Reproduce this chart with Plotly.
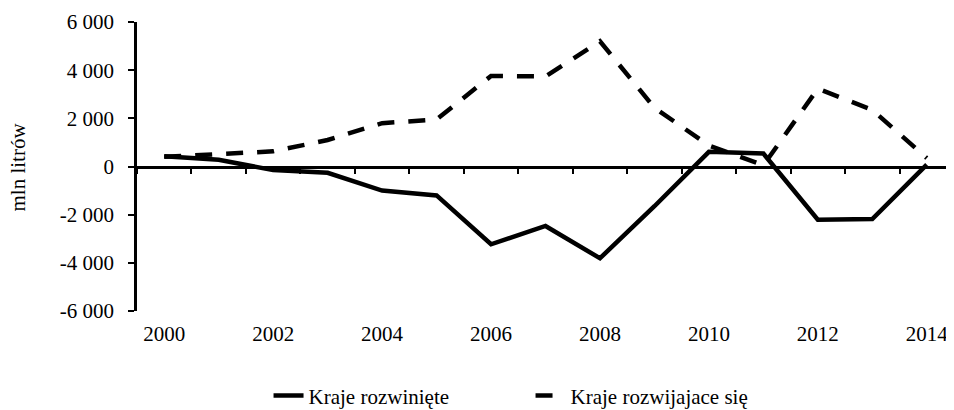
import plotly.graph_objects as go

years = list(range(2000, 2015))
developed = [430, 280, -150, -260, -1000, -1200, -3230, -2470, -3810, -1650, 610, 540, -2210, -2180, 80]
developing = [400, 500, 630, 1100, 1800, 1950, 3760, 3740, 5200, 2440, 870, 50, 3230, 2350, 350]

y_ticks = [-6000, -4000, -2000, 0, 2000, 4000, 6000]
y_ticktext = ["-6 000", "-4 000", "-2 000", "0", "2 000", "4 000", "6 000"]
x_tick_years = years[::2]

name_dev = "Kraje rozwinięte"
name_devg = "Kraje rozwijajace się"
y_title = "mln litrów"

boundaries = [y - 0.5 for y in years] + [years[-1] + 0.5]
x_range = [years[0] - 0.5, years[-1] + 0.5]

font_family = "Times New Roman, Liberation Serif, DejaVu Serif, serif"

fig = go.Figure()
fig.add_trace(go.Scatter(x=years, y=developed, mode="lines", name=name_dev,
                         line=dict(color="black", width=4.5)))
fig.add_trace(go.Scatter(x=years, y=developing, mode="lines", name=name_devg,
                         line=dict(color="black", width=4.5, dash="17px,14px")))
# helper trace for the zero-line axis with boundary ticks
fig.add_trace(go.Scatter(x=[years[0]], y=[None], xaxis="x2", showlegend=False,
                         hoverinfo="skip", mode="lines"))

fig.update_layout(
    width=946, height=402,
    margin=dict(l=129, r=0, t=14, b=99, autoexpand=False),
    paper_bgcolor="white", plot_bgcolor="white",
    font=dict(family=font_family, size=21, color="black"),
    showlegend=True,
    legend=dict(orientation="h", x=0.161, xanchor="left", y=-0.294, yanchor="middle",
                font=dict(family=font_family, size=21, color="black"),
                entrywidth=217, entrywidthmode="pixels", bgcolor="rgba(0,0,0,0)"),
    xaxis=dict(range=x_range, tickmode="array", tickvals=x_tick_years,
               ticktext=[str(y) for y in x_tick_years], showline=False, ticks="",
               showgrid=False, zeroline=False, ticklabelstandoff=8,
               tickfont=dict(family=font_family, size=21, color="black")),
    xaxis2=dict(range=x_range, overlaying="x", anchor="free", position=0.5, side="bottom",
                tickmode="array", tickvals=boundaries, showticklabels=False,
                showline=True, linecolor="black", linewidth=2.5, ticks="outside",
                ticklen=6, tickwidth=1.5, tickcolor="black", showgrid=False, zeroline=False),
    yaxis=dict(range=[-6000, 6000], tickmode="array", tickvals=y_ticks, ticktext=y_ticktext,
               showline=True, linecolor="black", linewidth=2.5, ticks="outside", ticklen=6,
               tickwidth=1.5, tickcolor="black", showgrid=False, zeroline=False,
               ticklabelstandoff=10,
               tickfont=dict(family=font_family, size=21, color="black")),
)

fig.add_annotation(text=y_title, xref="paper", yref="paper", x=-0.1457, y=0.5,
                   xanchor="center", yanchor="middle", textangle=-90, showarrow=False,
                   font=dict(family=font_family, size=21, color="black"))

fig.write_html("out.html")
